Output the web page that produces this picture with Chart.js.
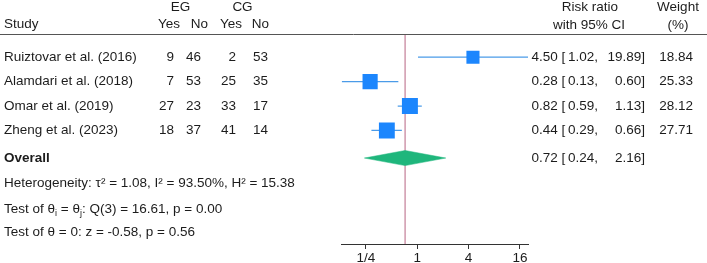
<!DOCTYPE html>
<html>
<head>
<meta charset="utf-8">
<script src="https://cdn.jsdelivr.net/npm/chart.js@4.4.0/dist/chart.umd.min.js"></script>
<style>
  html, body { margin: 0; padding: 0; background: #fff; }
  #wrap { width: 707px; height: 263px; }
</style>
</head>
<body>
<div id="wrap"><canvas id="forestChart" width="707" height="263"></canvas></div>
<script>
// study table
const studies = ['Ruiztovar et al. (2016)', 'Alamdari et al. (2018)', 'Omar et al. (2019)', 'Zheng et al. (2023)'];
const egYes = [9, 7, 27, 18];
const egNo = [46, 53, 23, 37];
const cgYes = [2, 25, 33, 41];
const cgNo = [53, 35, 17, 14];

// risk ratios with 95% CI
const riskRatio = [4.50, 0.28, 0.82, 0.44];
const ciLow = [1.02, 0.13, 0.59, 0.29];
const ciHigh = [19.89, 0.60, 1.13, 0.66];
const weights = [18.84, 25.33, 28.12, 27.71];

// overall estimate
const overall = [0.72, 0.24, 2.16]; // estimate, low, high

// heterogeneity / tests
const tau2 = 1.08, iSq = 93.50, hSq = 15.38;
const qStat = 16.61, qDf = 3, qP = 0.00;
const zStat = -0.58, zP = 0.56;

// x axis ticks
const tickValues = [0.25, 1, 4, 16];
const tickLabels = ['1/4', '1', '4', '16'];

// row layout (y units, one unit per study row)
const Y_MIN = -0.95, Y_MAX = 7.65;
const OVERALL_ROW = 4.13;
const STAT_ROWS = [5.15, 6.22, 7.16];

const FONT = '"Liberation Sans", Arial, Helvetica, sans-serif';
const TEXT_COLOR = '#1c1c1c';
const DIAMOND_HALF = 0.31;
const MAX_SIDE_R = 11.3;

const maxW = Math.max(...weights);

const datasets = [];

// squares
datasets.push({
    data: riskRatio.map((v, i) => ({ x: v, y: i })),
    pointStyle: 'rect',
    pointRadius: weights.map(w => Math.sqrt(w / maxW) * MAX_SIDE_R),
    backgroundColor: '#1c86fd',
    borderWidth: 0
});

// CI whiskers
studies.forEach((s, i) => {
    datasets.push({
        data: [{ x: ciLow[i], y: i }, { x: ciHigh[i], y: i }],
        showLine: true,
        borderColor: '#4b9be8',
        borderWidth: 1.2,
        pointRadius: 0
    });
});

// overall diamond
datasets.push({
    data: [
        { x: overall[1], y: OVERALL_ROW },
        { x: overall[0], y: OVERALL_ROW - DIAMOND_HALF },
        { x: overall[2], y: OVERALL_ROW },
        { x: overall[0], y: OVERALL_ROW + DIAMOND_HALF },
        { x: overall[1], y: OVERALL_ROW }
    ],
    showLine: true,
    fill: 'shape',
    backgroundColor: '#1fb67c',
    borderColor: '#1fb67c',
    borderWidth: 0.5,
    pointRadius: 0,
    tension: 0
});

// reference line at overall estimate
datasets.push({
    data: [{ x: overall[0], y: Y_MIN }, { x: overall[0], y: Y_MAX }],
    showLine: true,
    borderColor: '#c8879f',
    borderWidth: 1.3,
    pointRadius: 0
});

function drawText(ctx, text, x, y, align, bold) {
    ctx.font = (bold ? 'bold ' : '') + '13.5px ' + FONT;
    ctx.textAlign = align || 'left';
    ctx.fillText(text, x, y);
}

// draws a line of text where some parts are subscripts
function drawParts(ctx, parts, x, y) {
    ctx.textAlign = 'left';
    let cx = x;
    parts.forEach(p => {
        if (p.sub) {
            ctx.font = '9px ' + FONT;
            ctx.fillText(p.t, cx, y + 4);
        } else {
            ctx.font = '13.5px ' + FONT;
            ctx.fillText(p.t, cx, y);
        }
        cx += ctx.measureText(p.t).width;
    });
}

// CI text: "est [ lo,   hi]"
function drawCI(ctx, est, lo, hi, y) {
    drawText(ctx, est.toFixed(2), 531.5, y, 'left');
    drawText(ctx, '[', 561.5, y, 'left');
    drawText(ctx, lo.toFixed(2) + ',', 598, y, 'right');
    drawText(ctx, hi.toFixed(2) + ']', 645, y, 'right');
}

const tablePlugin = {
    id: 'forestTable',
    afterDraw(chart) {
        const ctx = chart.ctx;
        const yScale = chart.scales.y;
        const rowY = r => yScale.getPixelForValue(r);

        ctx.save();
        ctx.fillStyle = TEXT_COLOR;
        ctx.textBaseline = 'middle';

        // header
        drawText(ctx, 'EG', 180.5, 7, 'center');
        drawText(ctx, 'CG', 242.5, 7, 'center');
        drawText(ctx, 'Study', 4, 24, 'left');
        drawText(ctx, 'Yes', 169, 24, 'center');
        drawText(ctx, 'No', 199.5, 24, 'center');
        drawText(ctx, 'Yes', 231, 24, 'center');
        drawText(ctx, 'No', 260.5, 24, 'center');
        drawText(ctx, 'Risk ratio', 590, 7, 'center');
        drawText(ctx, 'with 95% CI', 589, 25, 'center');
        drawText(ctx, 'Weight', 678, 7, 'center');
        drawText(ctx, '(%)', 678, 25, 'center');

        // rule under header
        ctx.strokeStyle = '#555';
        ctx.lineWidth = 1;
        ctx.beginPath();
        ctx.moveTo(0, 34.5);
        ctx.lineTo(707, 34.5);
        ctx.stroke();

        // study rows
        studies.forEach((s, i) => {
            const y = rowY(i);
            drawText(ctx, s, 4, y, 'left');
            drawText(ctx, String(egYes[i]), 174, y, 'right');
            drawText(ctx, String(egNo[i]), 201, y, 'right');
            drawText(ctx, String(cgYes[i]), 236, y, 'right');
            drawText(ctx, String(cgNo[i]), 268, y, 'right');
            drawCI(ctx, riskRatio[i], ciLow[i], ciHigh[i], y);
            drawText(ctx, weights[i].toFixed(2), 693, y, 'right');
        });

        // overall row
        const oy = rowY(OVERALL_ROW);
        drawText(ctx, 'Overall', 4, oy, 'left', true);
        drawCI(ctx, overall[0], overall[1], overall[2], oy);

        // stats
        drawText(ctx, 'Heterogeneity: \u03c4\u00b2 = ' + tau2.toFixed(2) + ', I\u00b2 = ' + iSq.toFixed(2) +
            '%, H\u00b2 = ' + hSq.toFixed(2), 4, rowY(STAT_ROWS[0]), 'left');
        drawParts(ctx, [
            { t: 'Test of \u03b8' }, { t: 'i', sub: true },
            { t: ' = \u03b8' }, { t: 'j', sub: true },
            { t: ': Q(' + qDf + ') = ' + qStat.toFixed(2) + ', p = ' + qP.toFixed(2) }
        ], 4, rowY(STAT_ROWS[1]));
        drawText(ctx, 'Test of \u03b8 = 0: z = ' + zStat.toFixed(2) + ', p = ' + zP.toFixed(2), 4, rowY(STAT_ROWS[2]), 'left');

        ctx.restore();
    }
};

new Chart(document.getElementById('forestChart'), {
    type: 'scatter',
    data: { datasets: datasets },
    options: {
        responsive: false,
        animation: false,
        layout: { padding: { left: 341.7, right: 179, top: 34, bottom: 0 } },
        plugins: { legend: { display: false }, tooltip: { enabled: false } },
        scales: {
            x: {
                type: 'logarithmic',
                min: Math.min(...ciLow),
                max: Math.max(...ciHigh),
                afterBuildTicks: scale => { scale.ticks = tickValues.map(v => ({ value: v })); },
                afterFit: scale => { scale.height = 19; },
                ticks: {
                    autoSkip: false,
                    maxRotation: 0,
                    padding: 1,
                    color: TEXT_COLOR,
                    font: { family: FONT, size: 13.5 },
                    callback: (value, index) => tickLabels[index]
                },
                grid: { drawOnChartArea: false, drawTicks: true, tickLength: 5, color: '#333' },
                border: { display: true, color: '#333', width: 1 }
            },
            y: {
                type: 'linear',
                display: false,
                reverse: true,
                min: Y_MIN,
                max: Y_MAX
            }
        }
    },
    plugins: [tablePlugin]
});
</script>
</body>
</html>
